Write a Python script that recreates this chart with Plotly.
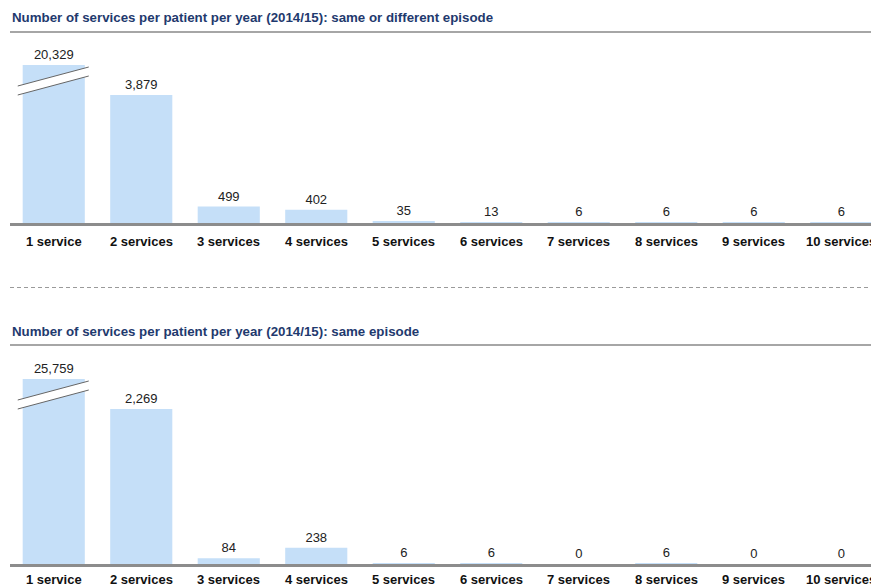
import plotly.graph_objects as go

# ---------------- data ----------------
categories = ["1 service", "2 services", "3 services", "4 services", "5 services",
              "6 services", "7 services", "8 services", "9 services", "10 services"]
values_any_episode = [20329, 3879, 499, 402, 35, 13, 6, 6, 6, 6]
values_same_episode = [25759, 2269, 84, 238, 6, 6, 0, 6, 0, 0]
title_any = "Number of services per patient per year (2014/15): same or different episode"
title_same = "Number of services per patient per year (2014/15): same episode"

# ---------------- layout constants (pixels) ----------------
W, H = 871, 587
LEFT = 10
CAT_PX = 87.5          # horizontal pixels per category (last one runs off the page)
BAR_COLOR = "#c5dff8"
TITLE_COLOR = "#1f3a6e"
FONT = "Arial, Liberation Sans, Helvetica, sans-serif"


def py(px):
    return 1 - px / H


panels = [
    dict(vals=values_any_episode, title=title_any, title_y=17.5, rule_y=32,
         top=40, base=223, second_px=128, label_y=241, xa="x", ya="y"),
    dict(vals=values_same_episode, title=title_same, title_y=331.5, rule_y=345,
         top=352, base=564, second_px=155, label_y=579.5, xa="x2", ya="y2"),
]

fig = go.Figure()
shapes = []
annotations = []
n = len(categories)
x_idx = list(range(n))
x_hi = -0.5 + (W - LEFT) / CAT_PX

for i, p in enumerate(panels):
    vals = p["vals"]
    ordered = sorted(vals, reverse=True)
    second = ordered[1]
    plot_h = p["base"] - p["top"]
    ymax = second * plot_h / p["second_px"]
    per_px = ymax / plot_h
    cap = second + 30 * per_px
    shown = [min(v, cap) for v in vals]
    fig.add_trace(go.Bar(
        x=x_idx, y=shown, text=[f"{v:,}" for v in vals],
        textposition="outside", cliponaxis=False,
        textfont=dict(family=FONT, size=13, color="#222222"),
        marker=dict(color=BAR_COLOR, line=dict(width=0)),
        width=0.71, xaxis=p["xa"], yaxis=p["ya"], hoverinfo="skip",
        showlegend=False,
    ))
    axkey = "xaxis" if i == 0 else "xaxis2"
    aykey = "yaxis" if i == 0 else "yaxis2"
    fig.update_layout(**{
        axkey: dict(domain=[LEFT / W, 1], range=[-0.5, x_hi],
                    showticklabels=False, ticks="",
                    showline=True, linecolor="#8c8c8c", linewidth=3,
                    showgrid=False, zeroline=False, fixedrange=True,
                    anchor=p["ya"]),
        aykey: dict(domain=[py(p["base"]), py(p["top"])], range=[0, ymax],
                    visible=False, showgrid=False, zeroline=False,
                    fixedrange=True, anchor=p["xa"]),
    })
    # category labels (the last one runs off the page, as in the original)
    for j, c in enumerate(categories):
        annotations.append(dict(text=f"<b>{c}</b>", xref=p["xa"], yref="paper",
                                x=j, y=py(p["label_y"]), xanchor="center",
                                yanchor="middle", showarrow=False,
                                font=dict(family=FONT, size=13, color="#111111")))
    # break marks on capped bars
    for j, v in enumerate(vals):
        if v > cap:
            dx = 1 / CAT_PX
            xl, xr = j - 36 * dx, j + 35 * dx
            T = cap
            y1l, y1r = T - 21 * per_px, T - 2 * per_px
            y2l, y2r = T - 30 * per_px, T - 11 * per_px
            shapes.append(dict(type="path", xref=p["xa"], yref=p["ya"],
                               path=f"M {xl},{y1l} L {xr},{y1r} L {xr},{y2r} L {xl},{y2l} Z",
                               fillcolor="white", line=dict(width=0)))
            for (a, b) in [(y1l, y1r), (y2l, y2r)]:
                shapes.append(dict(type="line", xref=p["xa"], yref=p["ya"],
                                   x0=xl, x1=xr, y0=a, y1=b,
                                   line=dict(color="#666666", width=1)))
    # title and rule
    annotations.append(dict(text=f"<b>{p['title']}</b>", xref="paper", yref="paper",
                            x=LEFT / W, y=py(p["title_y"]), xanchor="left", yanchor="middle",
                            showarrow=False,
                            font=dict(family=FONT, size=13.3, color=TITLE_COLOR)))
    shapes.append(dict(type="line", xref="paper", yref="paper",
                       x0=LEFT / W, x1=1, y0=py(p["rule_y"]), y1=py(p["rule_y"]),
                       line=dict(color="#a6a6a6", width=2)))

# dashed separator
shapes.append(dict(type="line", xref="paper", yref="paper",
                   x0=LEFT / W, x1=1, y0=py(287.5), y1=py(287.5),
                   line=dict(color="#9a9a9a", width=1, dash="4px,3px")))

fig.update_layout(width=W, height=H, autosize=False,
                  margin=dict(l=0, r=0, t=0, b=0),
                  paper_bgcolor="white", plot_bgcolor="white",
                  shapes=shapes, annotations=annotations, bargap=0.28)

fig.write_html("out.html",
               config={"displayModeBar": False},
               post_script="document.body.style.margin='0';"
                           "document.body.style.overflow='hidden';")
